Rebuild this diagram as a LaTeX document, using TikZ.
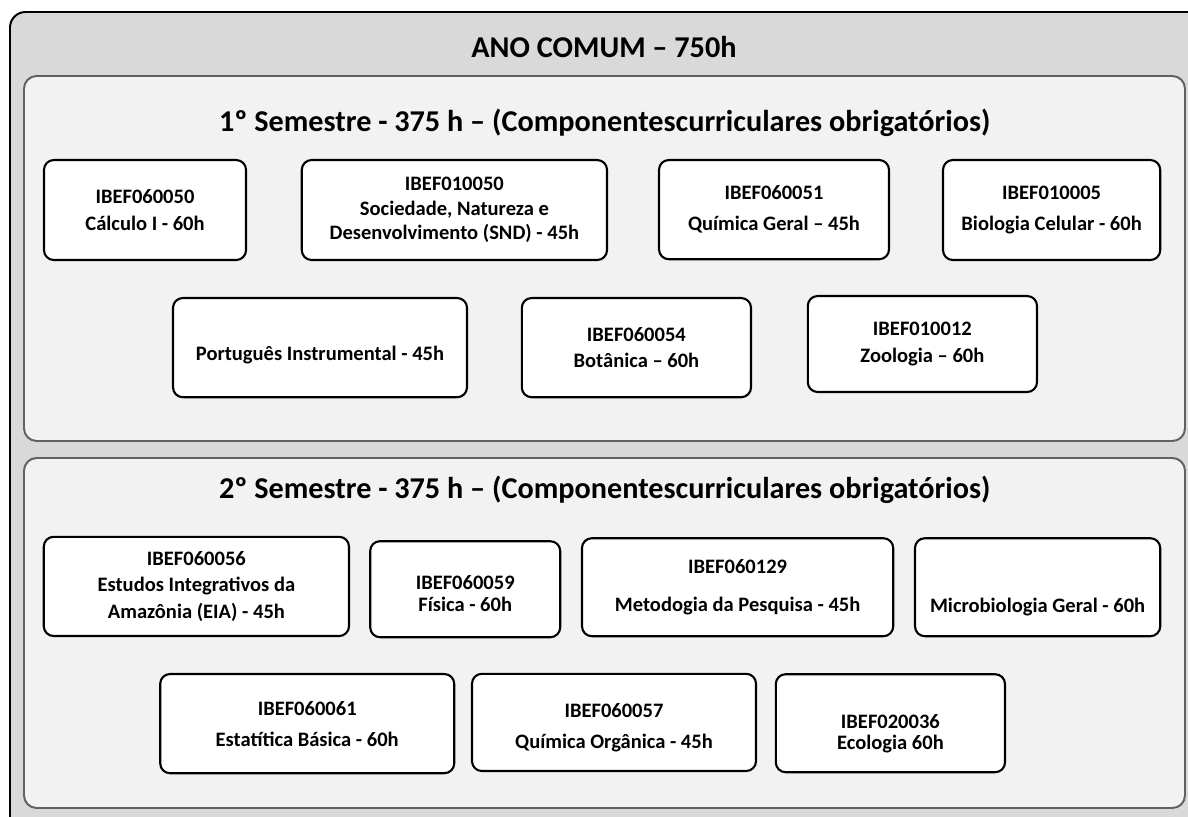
\documentclass[tikz,border=0pt]{standalone}
\usepackage{fontspec}
\setmainfont{Carlito}
\usepackage{tikz}
\tikzset{
  course/.style={draw, line width=1.5pt, rounded corners=7pt, fill=white, align=center,
    inner sep=0pt, font=\bfseries\fontsize{14.6}{19}\selectfont},
  panel/.style={draw=black!62, line width=1.4pt, rounded corners=9pt, fill=black!5},
  heading/.style={font=\bfseries\fontsize{21.5}{25}\selectfont},
}

\begin{document}
\begin{tikzpicture}[y=-1cm]
      \clip (0, 0) rectangle (29.7, 20.4);
      % frame
      \draw[line width=1.4pt, rounded corners=11pt, fill=black!15] (.25, .3) rectangle (30.5, 21);
      \node[heading] (ano) at (15.1, 1.18) {ANO COMUM – 750h};
      % panels
      \draw[panel] (.6, 1.9) rectangle (29.625, 11.025);
      \draw[panel] (.6, 11.45) rectangle (29.625, 20.2);
      \node[heading] (sem1) at (15.12, 3.07)
        {1º Semestre - 375 h – (Componentescurriculares obrigatórios)};
      \node[heading] (sem2) at (15.12, 12.25)
        {2º Semestre - 375 h – (Componentescurriculares obrigatórios)};
      % first semester
      \node[course, minimum width=5.05cm, minimum height=2.5cm] (calc) at (3.625, 5.25)
        {IBEF060050\\Cálculo I - 60h};
      \node[course, minimum width=7.63cm, minimum height=2.5cm] (snd) at (11.36, 5.25)
        {IBEF010050\\[-1.5pt]Sociedade, Natureza e\\[-1.5pt]Desenvolvimento (SND) - 45h};
      \node[course, minimum width=5.75cm, minimum height=2.48cm] (qgeral) at (19.35, 5.24)
        {IBEF060051\\[3pt]Química Geral – 45h};
      \node[course, minimum width=5.43cm, minimum height=2.5cm] (bio) at (26.29, 5.25)
        {IBEF010005\\[3pt]Biologia Celular - 60h};
      \node[course, minimum width=7.35cm, minimum height=2.48cm] (port) at (8, 8.69)
        {\mbox{}\\[2pt]Português Instrumental - 45h};
      \node[course, minimum width=5.73cm, minimum height=2.48cm] (bot) at (15.91, 8.69)
        {IBEF060054\\Botânica – 60h};
      \node[course, minimum width=5.73cm, minimum height=2.4cm] (zoo) at (23.06, 8.6)
        {IBEF010012\\Zoologia – 60h};
      % second semester
      \node[course, minimum width=7.63cm, minimum height=2.48cm] (eia) at (4.91, 14.66)
        {IBEF060056\\[0pt]Estudos Integrativos da\\[0pt]Amazônia (EIA) - 45h};
      \node[course, minimum width=4.75cm, minimum height=2.4cm] (fis) at (11.63, 14.73)
        {\rule{0pt}{16pt}IBEF060059\\[-3.5pt]Física - 60h};
      \node[course, minimum width=7.78cm, minimum height=2.45cm] (meto) at (18.44, 14.68)
        {IBEF060129\\[8pt]Metodogia da Pesquisa - 45h};
      \node[course, minimum width=6.13cm, minimum height=2.45cm] (micro) at (25.94, 14.68)
        {\mbox{}\\[20pt]Microbiologia Geral - 60h};
      \node[course, minimum width=7.35cm, minimum height=2.48cm] (est) at (7.68, 18.09)
        {IBEF060061\\[3pt]Estatítica Básica - 60h};
      \node[course, minimum width=7.1cm, minimum height=2.43cm] (qorg) at (15.35, 18.06)
        {\rule{0pt}{17pt}IBEF060057\\[3pt]Química Orgânica - 45h};
      \node[course, minimum width=5.73cm, minimum height=2.45cm] (eco) at (22.26, 18.08)
        {\rule{0pt}{25pt}IBEF020036\\[-3.5pt]Ecologia 60h};
    \end{tikzpicture}
\end{document}
